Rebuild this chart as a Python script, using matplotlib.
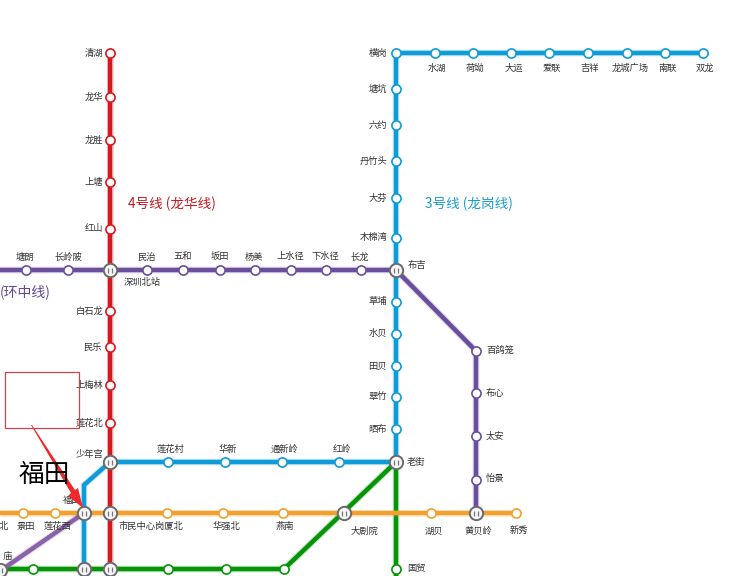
#!/usr/bin/env python
"""Shenzhen metro map crop, drawn in pixel coordinates."""
import matplotlib
matplotlib.use("Agg")
import matplotlib.pyplot as plt
from matplotlib.patches import Polygon, Rectangle

plt.rcParams["font.family"] = ["Noto Sans CJK SC", "DejaVu Sans"]

RED = "#d7191f"
BLUE = "#0f9bd7"
PURPLE = "#6a4f9c"
PURPLE2 = "#8a62a8"
ORANGE = "#f3a02e"
GREEN = "#069409"

# line paths (x, y in image pixels)
line4_x = [110, 110]
line4_y = [53, 569]
line3_x = [703, 396, 396, 110, 84, 84]
line3_y = [53, 53, 462, 462, 485, 569]
ring_x = [0, 396, 476, 476]
ring_y = [270, 270, 351, 513]
ring2_x = [84, 0]
ring2_y = [513, 571]
line1_x = [0, 516]
line1_y = [513, 513]
line2_x = [0, 284, 396, 396]
line2_y = [569, 569, 462, 576]

# plain stations per line
red_x = [110] * 9
red_y = [53, 97, 140, 182, 229, 311, 347, 385, 423]
blue_x = [435, 473, 511, 549, 588, 627, 665, 703,
          396, 396, 396, 396, 396, 396, 396, 396, 396, 396, 396,
          168, 225, 282, 339]
blue_y = [53, 53, 53, 53, 53, 53, 53, 53,
          53, 89, 125, 161, 198, 238, 302, 334, 366, 397, 429,
          462, 462, 462, 462]
purple_x = [26, 68, 147, 183, 220, 255, 291, 326, 361, 476, 476, 476, 476]
purple_y = [270, 270, 270, 270, 270, 270, 270, 270, 270, 351, 393, 436, 480]
orange_x = [23, 55, 167, 223, 283, 431, 516]
orange_y = [513, 513, 513, 513, 513, 513, 513]
green_x = [33, 168, 226, 284, 396]
green_y = [569, 569, 569, 569, 569]

# interchange stations
hub_x = [110, 396, 110, 396, 84, 110, 344, 476, 84, 110, 0]
hub_y = [270, 270, 462, 462, 513, 513, 513, 513, 569, 569, 570]

# labels right-aligned against a station
right_names = ["清湖", "龙华", "龙胜", "上塘", "红山", "白石龙", "民乐", "上梅林", "莲花北", "少年宫",
               "横岗", "塘坑", "六约", "丹竹头", "大芬", "木棉湾", "草埔", "水贝", "田贝", "翠竹", "晒布",
               "庙", "北"]
right_x = [103, 103, 103, 103, 103, 103, 102, 103, 103, 103,
           387, 387, 387, 387, 387, 387, 387, 387, 387, 387, 387,
           12, 8]
right_y = [53, 97, 140, 182, 229, 311, 347, 385, 423, 454,
           53, 89, 125, 161, 198, 237, 301, 333, 366, 397, 429,
           557, 526]

# labels left-aligned
left_names = ["布吉", "百鸽笼", "布心", "太安", "怡景", "老街", "国贸"]
left_x = [408, 486, 486, 486, 486, 407, 407]
left_y = [265, 351, 393, 436, 478, 463, 569]

# labels centred
center_names = ["水湖", "荷坳", "大运", "爱联", "吉祥", "龙城广场", "南联", "双龙",
                "塘朗", "长岭陂", "民治", "五和", "坂田", "杨美", "上水径", "下水径", "长龙",
                "深圳北站", "莲花村", "华新", "通新岭", "红岭",
                "景田", "莲花西", "市民中心", "岗厦北", "华强北", "燕南",
                "大剧院", "湖贝", "黄贝岭", "新秀", "福田"]
center_x = [437, 475, 514, 552, 590, 630, 668, 705,
            25, 68, 147, 183, 220, 254, 290, 325, 360,
            142, 171, 228, 285, 342,
            26, 58, 137, 169, 226, 285,
            364, 434, 478, 519, 72]
center_y = [68, 68, 68, 68, 68, 68, 68, 68,
            257, 257, 257, 257, 257, 257, 257, 257, 257,
            283, 449, 449, 449, 449,
            526, 526, 526, 526, 526, 526,
            531, 531, 531, 531, 500]

fig = plt.figure(figsize=(7.48, 5.76), dpi=100)
ax = fig.add_axes([0, 0, 1, 1])
ax.set_xlim(0, 748)
ax.set_ylim(576, 0)
ax.axis("off")

LW = 3.2


def path(xs, ys, color, z):
    ax.plot(xs, ys, color=color, lw=LW + 1.6, alpha=0.22, zorder=z,
            solid_joinstyle="miter", solid_capstyle="butt")
    ax.plot(xs, ys, color=color, lw=LW, zorder=z + 0.1,
            solid_joinstyle="miter", solid_capstyle="butt")


def stops(xs, ys, color):
    ax.plot(xs, ys, ls="none", marker="o", ms=6.6, mfc="white", mec=color,
            mew=1.2, zorder=6)


path(line2_x, line2_y, GREEN, 1)
path(line1_x, line1_y, ORANGE, 2)
path(line4_x, line4_y, RED, 3)
path(line3_x, line3_y, BLUE, 3.3)
path(ring_x, ring_y, PURPLE, 3.6)
path(ring2_x, ring2_y, PURPLE2, 3.8)

stops(red_x, red_y, RED)
stops(blue_x, blue_y, BLUE)
stops(purple_x, purple_y, PURPLE)
stops(orange_x, orange_y, ORANGE)
stops(green_x, green_y, GREEN)

ax.plot(hub_x, hub_y, ls="none", marker="o", ms=9.6, mfc="#f6f6f6", mec="#6a6a6a",
        mew=1.4, zorder=7)
# little grey logo inside each interchange ring
ax.plot([x - 2 for x in hub_x], hub_y, ls="none", marker="|", ms=3.6, mew=0.9,
        color="#777777", zorder=8)
ax.plot([x + 2 for x in hub_x], hub_y, ls="none", marker="|", ms=3.6, mew=0.9,
        color="#777777", zorder=8)

TXT = dict(fontsize=6.7, color="#333333", va="center", zorder=9)
for n, x, y in zip(right_names, right_x, right_y):
    ax.text(x, y, n, ha="right", **TXT)
for n, x, y in zip(left_names, left_x, left_y):
    ax.text(x, y, n, ha="left", **TXT)
for n, x, y in zip(center_names, center_x, center_y):
    ax.text(x, y, n, ha="center", **TXT)

# line names
ax.text(128, 204, "4号线 (龙华线)", color="#c8161d", fontsize=9.8, va="center", ha="left")
ax.text(425, 204, "3号线 (龙岗线)", color="#1a9cc8", fontsize=9.8, va="center", ha="left")
ax.text(0, 292, "(环中线)", color="#5f4a91", fontsize=10.0, va="center", ha="left")

# hand-drawn annotation on top of the map
ax.add_patch(Rectangle((5.5, 371.5), 74, 56, fill=False, ec="#c8484a", lw=0.9, zorder=10))
ax.add_patch(Polygon([(31, 425), (32, 425), (75, 490), (78, 488), (83, 508), (68, 496), (71, 493)],
                     closed=True, fc="#f0282c", ec="none", zorder=10))
ax.text(19, 475, "福田", fontsize=18.5, color="black", va="center", ha="left", zorder=11)

fig.savefig("out.png", dpi=100)
